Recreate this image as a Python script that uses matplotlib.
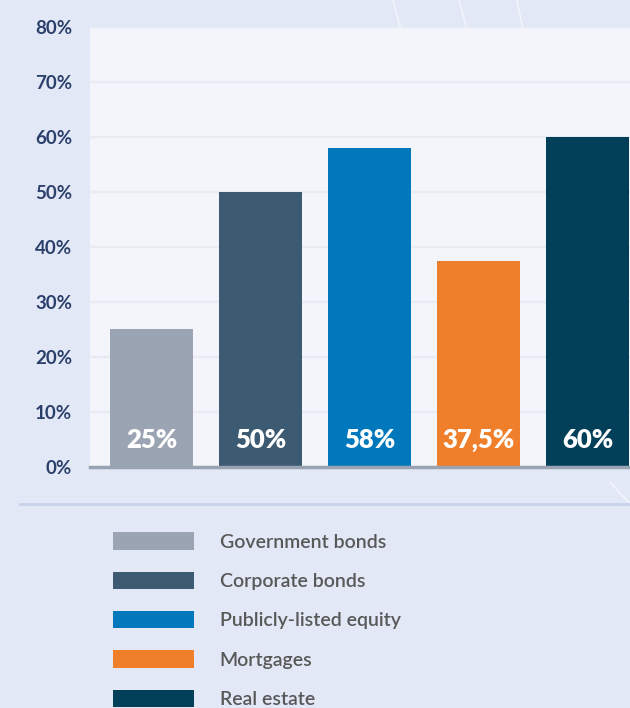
import numpy as np
import matplotlib
matplotlib.use("Agg")
from matplotlib import pyplot as plt
from matplotlib.lines import Line2D
from matplotlib.patches import Patch

categories = ["Government bonds", "Corporate bonds", "Publicly-listed equity",
              "Mortgages", "Real estate"]
values = [25, 50, 58, 37.5, 60]
bar_labels = ["25%", "50%", "58%", "37,5%", "60%"]
colors = ["#9AA4B2", "#3C5A71", "#0078BB", "#F07F2B", "#024059"]
yticks = [0, 10, 20, 30, 40, 50, 60, 70, 80]

plt.rcParams['font.family'] = ['Lato', 'DejaVu Sans']

W, H = 630, 708
fig = plt.figure(figsize=(W / 100, H / 100), dpi=100)
fig.patch.set_facecolor("#E2E8F6")

# faint decorative strokes in the background
for (x0, y0, x1, y1) in [(393, 0, 401, 30), (459, 0, 467, 30), (517, 0, 523, 30), (610, 482, 632, 506)]:
    fig.add_artist(Line2D([x0 / W, x1 / W], [1 - y0 / H, 1 - y1 / H], color="white",
                          lw=1.2, alpha=0.55, zorder=0))

left, right, top, bottom = 90, 630, 27, 467
ax = fig.add_axes([left / W, 1 - bottom / H, (right - left) / W, (bottom - top) / H])
ax.set_facecolor("#F3F5FB")

x = np.arange(len(categories))
ax.bar(x, values, width=83 / 109, color=colors, zorder=3)
for xi, lab in zip(x, bar_labels):
    ax.text(xi, 4.9, lab, ha="center", va="center", color="white",
            fontsize=18.5, fontweight="heavy", zorder=4)

ax.set_xlim(-61.5 / 109, 4 + 42.5 / 109)
ax.set_ylim(0, 80)
ax.set_yticks(yticks)
ax.set_yticklabels([f"{t}%" for t in yticks])
ax.set_xticks([])
ax.tick_params(axis="y", length=0, pad=13, labelsize=13.5, labelcolor="#2B3F6B")
for lab in ax.get_yticklabels():
    lab.set_fontweight("bold")
ax.yaxis.grid(True, color="#E8EBF3", lw=1.6, zorder=1)
for s in ["left", "right", "top"]:
    ax.spines[s].set_visible(False)
ax.spines["bottom"].set_color("#9AA3B1")
ax.spines["bottom"].set_linewidth(2.5)
ax.spines["bottom"].set_zorder(5)

# separator line
fig.add_artist(Line2D([20 / W, 1], [1 - 503.5 / H, 1 - 503.5 / H], color="#C6D2EC", lw=2))

# legend
handles = [Patch(facecolor=c, edgecolor="none") for c in colors]
leg = fig.legend(handles, categories, loc="upper left",
                 bbox_to_anchor=(105 / W, 1 - 524.5 / H), frameon=False,
                 fontsize=14, handlelength=4.2, handleheight=1.0,
                 handletextpad=1.3, labelspacing=1.08, borderaxespad=0)
for t in leg.get_texts():
    t.set_color("#585858")
    t.set_fontweight("semibold")

fig.savefig("out.png", dpi=100, facecolor=fig.get_facecolor())
